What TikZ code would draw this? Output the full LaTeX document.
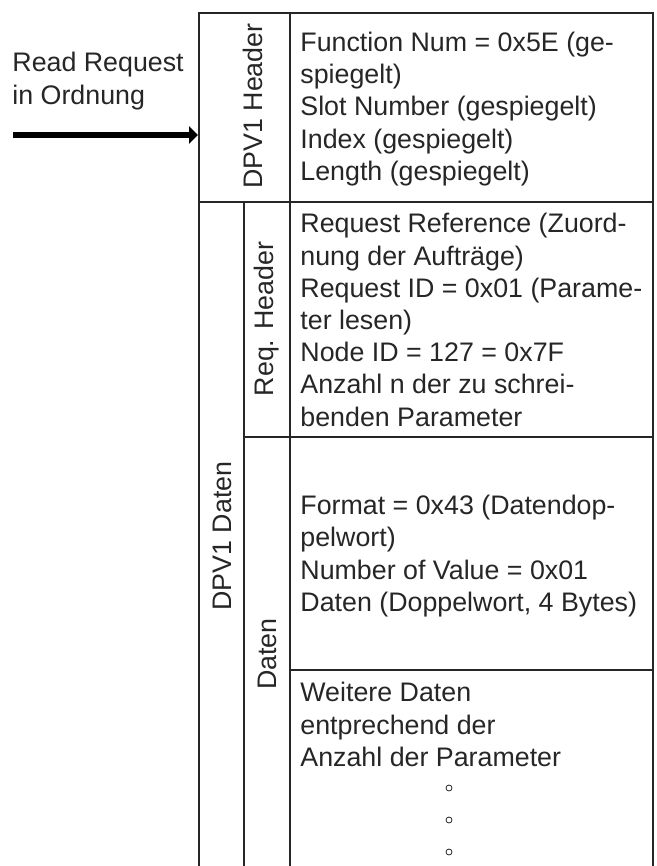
\documentclass[tikz,border=0pt]{standalone}
\usepackage{fontspec}
\setmainfont{Liberation Sans}
\usetikzlibrary{arrows.meta,positioning}

\begin{document}
\begin{tikzpicture}[x=0.5pt,y=-0.5pt,
  font=\fontsize{13.4}{16.1}\selectfont,
  rule/.style={draw=black!85,line width=1pt},
  side/.style={rotate=90,inner sep=0pt,text=black!85},
  entry/.style={anchor=west,align=left,inner sep=0pt,text=black!85}]
  \useasboundingbox (0,0) rectangle (657,866);
  % frame
  \draw[rule] (199,866) -- (199,13) -- (653,13) -- (653,866);
  \draw[rule] (290,13) -- (290,866);
  \draw[rule] (199,202) -- (653,202);
  \draw[rule] (244,202) -- (244,866);
  \draw[rule] (244,437) -- (653,437);
  \draw[rule] (290,670) -- (653,670);
  % side labels
  \node[side] (dpvhead) at (253,106) {DPV1 Header};
  \node[side] (dpvdata) at (222,536) {DPV1 Daten};
  \node[side] (reqhead) at (267,319) {Req. Header};
  \node[side] (datalbl) at (267,654) {Daten};
  % entries
  \node[entry] (hdrtxt) at (300,109) {Function Num = 0x5E (ge-\\spiegelt)\\Slot Number (gespiegelt)\\Index (gespiegelt)\\Length (gespiegelt)};
  \node[entry] (reqtxt) at (300,320) {Request Reference (Zuord-\\nung der Aufträge)\\Request ID = 0x01 (Parame-\\ter lesen)\\Node ID = 127 = 0x7F\\Anzahl n der zu schrei-\\benden Parameter};
  \node[entry] (datatxt) at (300,556) {Format = 0x43 (Datendop-\\pelwort)\\Number of Value = 0x01\\Daten (Doppelwort, 4 Bytes)};
  \node[entry,anchor=north west] (moretxt) at (300,682) {Weitere Daten\\entprechend der\\Anzahl der Parameter};
  \foreach \y in {788,820,852}
    \draw[black!85,line width=0.4pt] (449,\y) circle (1.5pt);
  % request
  \node[entry] (readreq) at (12,81) {Read Request\\in Ordnung};
  \coordinate (src) at (13,135);
  \coordinate (hdrin) at (198,135);
  \draw[black,line width=2.8pt,-{Triangle[length=4.5pt,width=8.5pt]}] (src) -- (hdrin);
\end{tikzpicture}
\end{document}
